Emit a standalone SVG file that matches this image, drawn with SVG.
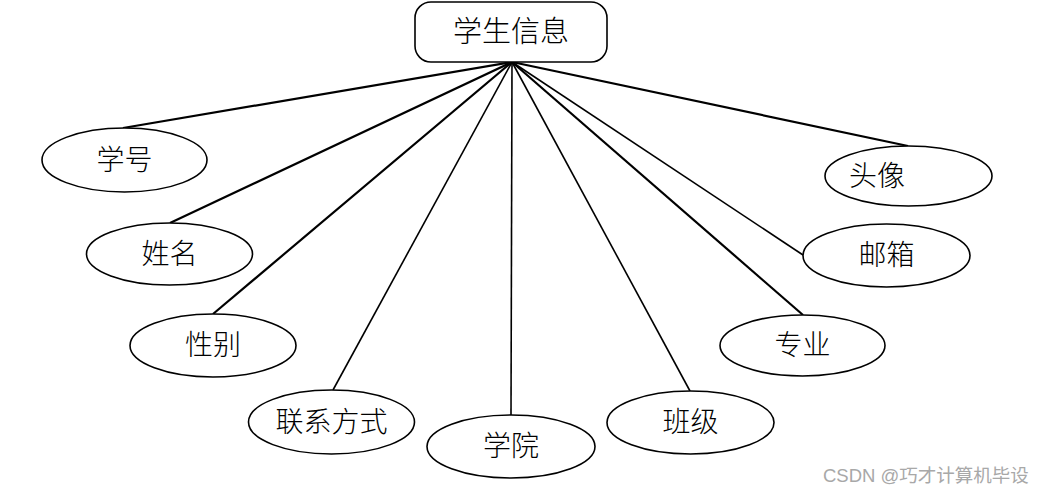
<svg xmlns="http://www.w3.org/2000/svg" width="1049" height="495" viewBox="0 0 1049 495">
<style>
.n{fill:#fff;stroke:#000;stroke-width:1.6}
.t{font-family:"Liberation Serif","Noto Sans CJK SC",serif;font-size:28px;font-weight:300;fill:#000;text-anchor:middle;dominant-baseline:central}
.c{stroke:#000;fill:none}
.w{stroke-width:2.2}
.s{stroke-width:1.6}
</style>
<rect width="1049" height="495" fill="#fff"/>
<g id="connectors">
<line class="c w" x1="512" y1="62" x2="123" y2="128"/>
<line class="c w" x1="512" y1="62" x2="170" y2="223"/>
<line class="c w" x1="512" y1="62" x2="213" y2="314"/>
<line class="c s" x1="512" y1="62" x2="333" y2="390"/>
<line class="c s" x1="512" y1="62" x2="511" y2="415"/>
<line class="c s" x1="512" y1="62" x2="690" y2="391"/>
<line class="c w" x1="512" y1="62" x2="803" y2="315"/>
<line class="c s" x1="512" y1="62" x2="803" y2="255"/>
<line class="c w" x1="512" y1="62" x2="908" y2="146"/>
</g>
<g id="root"><rect class="n" x="415" y="2" width="192" height="60" rx="16"/><text class="t" x="511" y="32" style="font-size:29px">学生信息</text></g>
<g id="n1"><ellipse class="n" cx="124.5" cy="160" rx="82.5" ry="32"/><text class="t" x="124.5" y="160">学号</text></g>
<g id="n2"><ellipse class="n" cx="169.5" cy="254" rx="83" ry="31"/><text class="t" x="169.5" y="254">姓名</text></g>
<g id="n3"><ellipse class="n" cx="213" cy="345.5" rx="83" ry="31.5"/><text class="t" x="213" y="345.5">性别</text></g>
<g id="n4"><ellipse class="n" cx="331.5" cy="422" rx="83" ry="32"/><text class="t" x="331.5" y="422">联系方式</text></g>
<g id="n5"><ellipse class="n" cx="511" cy="446.5" rx="84" ry="31.5"/><text class="t" x="511" y="446.5">学院</text></g>
<g id="n6"><ellipse class="n" cx="690.5" cy="422.5" rx="83.5" ry="31.5"/><text class="t" x="690.5" y="422.5">班级</text></g>
<g id="n7"><ellipse class="n" cx="802.5" cy="345.5" rx="82.5" ry="30.5"/><text class="t" x="802.5" y="345.5">专业</text></g>
<g id="n8"><ellipse class="n" cx="886.5" cy="255.5" rx="83.5" ry="31.5"/><text class="t" x="886.5" y="255.5">邮箱</text></g>
<g id="n9"><ellipse class="n" cx="908.5" cy="176" rx="83.5" ry="30"/><text class="t" x="877" y="176">头像</text></g>
<text x="823" y="482" style="font-family:'Liberation Sans','Noto Sans CJK SC',sans-serif;font-size:18.5px;fill:#a8a8a8">CSDN @巧才计算机毕设</text>
</svg>
